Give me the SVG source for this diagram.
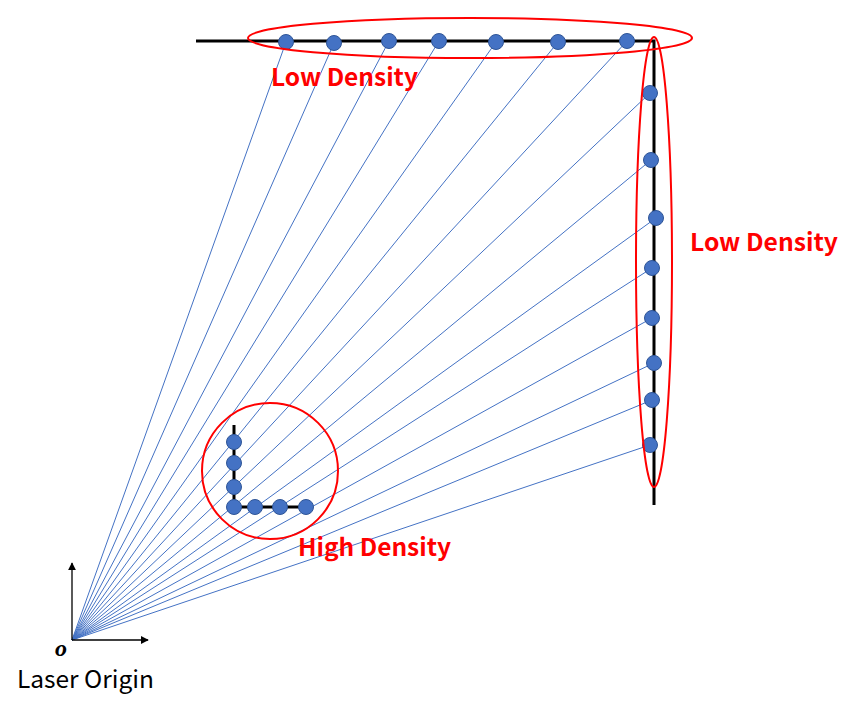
<svg xmlns="http://www.w3.org/2000/svg" width="855" height="712" viewBox="0 0 855 712">
<defs>
<style>
.ray{stroke:#4472C4;stroke-width:1}
.wall{stroke:#000;stroke-width:3;fill:none}
.dot{fill:#4472C4;stroke:#2F5597;stroke-width:1}
.ring{fill:none;stroke:#FF0000;stroke-width:2}
.lbl{font-family:"Noto Sans CJK JP","Liberation Sans",sans-serif;font-weight:bold;font-size:24px;fill:#FF0000}
.ax{stroke:#000;stroke-width:1.3}
</style>
<marker id="ah" viewBox="0 0 10 10" refX="9" refY="5" markerWidth="8" markerHeight="8" markerUnits="userSpaceOnUse" orient="auto">
<path d="M0,0 L10,5 L0,10 z" fill="#000"/>
</marker>
</defs>
<rect width="855" height="712" fill="#fff"/>
<g id="connectors">
<line class="ray" x1="72" y1="640" x2="286" y2="42"/>
<line class="ray" x1="72" y1="640" x2="334" y2="43"/>
<line class="ray" x1="72" y1="640" x2="389" y2="41"/>
<line class="ray" x1="72" y1="640" x2="439" y2="41"/>
<line class="ray" x1="72" y1="640" x2="496" y2="42"/>
<line class="ray" x1="72" y1="640" x2="558" y2="42"/>
<line class="ray" x1="72" y1="640" x2="627" y2="41"/>
<line class="ray" x1="72" y1="640" x2="650" y2="93"/>
<line class="ray" x1="72" y1="640" x2="651" y2="160"/>
<line class="ray" x1="72" y1="640" x2="656" y2="218"/>
<line class="ray" x1="72" y1="640" x2="652" y2="268"/>
<line class="ray" x1="72" y1="640" x2="652" y2="318"/>
<line class="ray" x1="72" y1="640" x2="654" y2="363"/>
<line class="ray" x1="72" y1="640" x2="652" y2="400"/>
<line class="ray" x1="72" y1="640" x2="650" y2="445"/>
</g>
<g id="far-wall">
<polyline class="wall" points="196,41 654,41 654,505"/>
</g>
<g id="near-wall">
<polyline class="wall" points="234,425 234,507 312,507"/>
</g>
<g id="top-points">
<circle class="dot" cx="286" cy="42" r="7.5"/>
<circle class="dot" cx="334" cy="43" r="7.5"/>
<circle class="dot" cx="389" cy="41" r="7.5"/>
<circle class="dot" cx="439" cy="41" r="7.5"/>
<circle class="dot" cx="496" cy="42" r="7.5"/>
<circle class="dot" cx="558" cy="42" r="7.5"/>
<circle class="dot" cx="627" cy="41" r="7.5"/>
</g>
<g id="right-points">
<circle class="dot" cx="650" cy="93" r="7.5"/>
<circle class="dot" cx="651" cy="160" r="7.5"/>
<circle class="dot" cx="656" cy="218" r="7.5"/>
<circle class="dot" cx="652" cy="268" r="7.5"/>
<circle class="dot" cx="652" cy="318" r="7.5"/>
<circle class="dot" cx="654" cy="363" r="7.5"/>
<circle class="dot" cx="652" cy="400" r="7.5"/>
<circle class="dot" cx="650" cy="445" r="7.5"/>
</g>
<g id="near-points">
<circle class="dot" cx="234" cy="442" r="7.5"/>
<circle class="dot" cx="234" cy="463" r="7.5"/>
<circle class="dot" cx="234" cy="487" r="7.5"/>
<circle class="dot" cx="234" cy="507" r="7.5"/>
<circle class="dot" cx="255" cy="507" r="7.5"/>
<circle class="dot" cx="280" cy="507" r="7.5"/>
<circle class="dot" cx="306" cy="507" r="7.5"/>
</g>
<g id="top-ring">
<ellipse class="ring" cx="470" cy="38" rx="222" ry="20"/>
<text class="lbl" x="271" y="86" textLength="147" lengthAdjust="spacingAndGlyphs">Low Density</text>
</g>
<g id="right-ring">
<ellipse class="ring" cx="654" cy="262" rx="18" ry="225"/>
<text class="lbl" x="690" y="251" textLength="148" lengthAdjust="spacingAndGlyphs">Low Density</text>
</g>
<g id="near-ring">
<circle class="ring" cx="270" cy="471" r="68"/>
<text class="lbl" x="298" y="556" textLength="153" lengthAdjust="spacingAndGlyphs">High Density</text>
</g>
<g id="origin">
<line class="ax" x1="72" y1="640" x2="72" y2="563" marker-end="url(#ah)"/>
<line class="ax" x1="72" y1="640" x2="148" y2="640" marker-end="url(#ah)"/>
<text x="55" y="656" font-family="Liberation Serif,serif" font-style="italic" font-weight="bold" font-size="24">o</text>
<text x="17" y="688" font-family="Noto Sans CJK JP,Liberation Sans,sans-serif" font-size="24" fill="#000" textLength="137" lengthAdjust="spacingAndGlyphs">Laser Origin</text>
</g>
</svg>
